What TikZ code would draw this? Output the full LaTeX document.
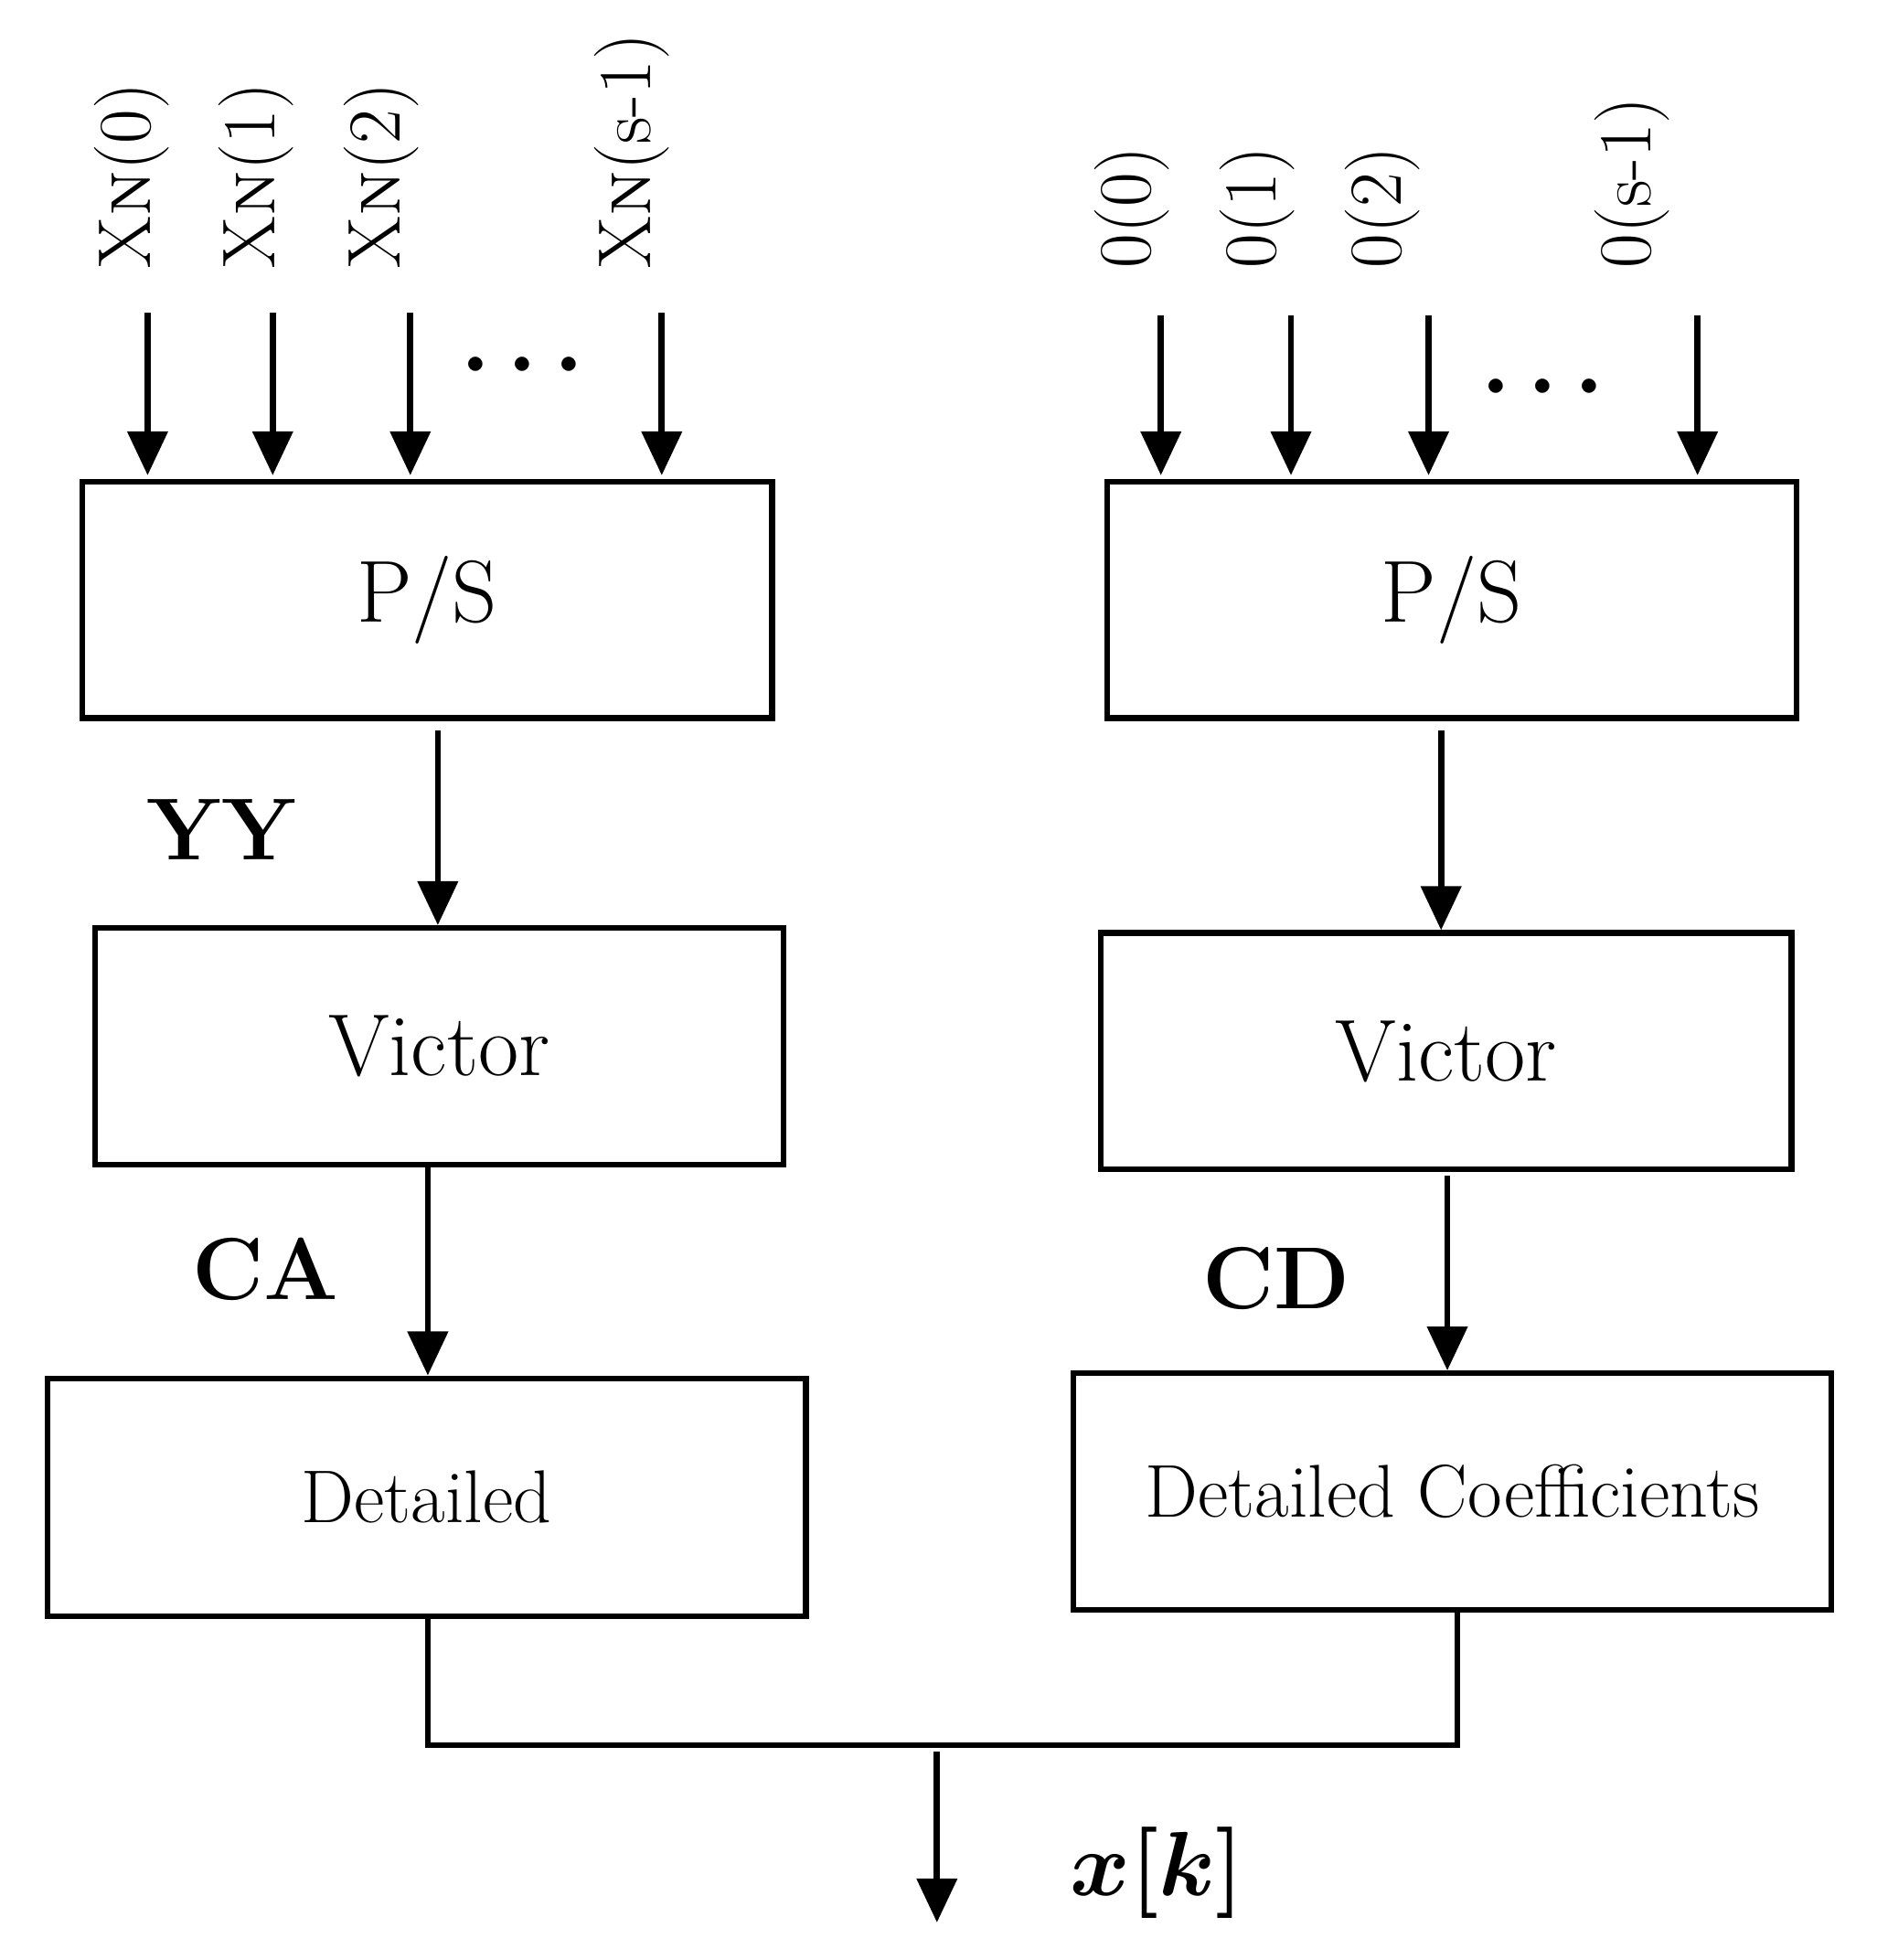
\documentclass[tikz,border=0pt]{standalone}
\usepackage{amsmath,amssymb}
\usepackage{tikz}
\usetikzlibrary{arrows.meta}
\usetikzlibrary{calc}
\tikzset{blk/.style={draw,line width=1.3pt,inner sep=0pt},
  arr/.style={line width=1.4pt,-{Triangle[length=10pt,width=9pt]}},
  inp/.style={rotate=90,anchor=west,inner sep=0pt,font=\fontsize{17}{19}\selectfont}}
\begin{document}
\begin{tikzpicture}[x=0.01cm,y=-0.01cm]
    \useasboundingbox (0,0) rectangle (1500,1567);
    % blocks
    \node[blk,minimum width=5.51cm,minimum height=1.89cm,font=\fontsize{20}{22}\selectfont] (ps1) at (341.5,479.5) {P/S};
    \node[blk,minimum width=5.51cm,minimum height=1.89cm,font=\fontsize{20}{22}\selectfont] (ps2) at (1160.5,479.5) {P/S};
    \node[blk,minimum width=5.50cm,minimum height=1.89cm,font=\fontsize{20}{22}\selectfont] (v1) at (351,836.5) {Victor};
    \node[blk,minimum width=5.52cm,minimum height=1.89cm,font=\fontsize{20}{22}\selectfont] (v2) at (1156,840.5) {Victor};
    \node[blk,minimum width=6.06cm,minimum height=1.90cm,font=\fontsize{17}{19}\selectfont] (d1) at (341,1197) {Detailed};
    \node[blk,minimum width=6.06cm,minimum height=1.89cm,font=\fontsize{17}{19}\selectfont] (d2) at (1161,1192.5) {Detailed Coefficients};
    % inputs
    \foreach \x/\t in {118/0,218/1,328/2,529/s-1}{
      \coordinate (a\t) at (\x,250);
      \draw[arr] (a\t) -- (\x,380);
    }
    \foreach \x/\t in {928/0,1032/1,1142/2,1357/s-1}{
      \coordinate (b\t) at (\x,252);
      \draw[arr] (b\t) -- (\x,380);
    }
    \node[inp] (l0) at (105,215) {X\textsc{n}(0)};
    \node[inp] (l1) at (205,215) {X\textsc{n}(1)};
    \node[inp] (l2) at (305,215) {X\textsc{n}(2)};
    \node[inp] (l3) at (505,215) {X\textsc{n}(s-1)};
    \node[inp] (r0) at (905,215) {0(0)};
    \node[inp] (r1) at (1005,215) {0(1)};
    \node[inp] (r2) at (1105,215) {0(2)};
    \node[inp] (r3) at (1305,215) {0(s-1)};
    \node[font=\fontsize{22}{22}\bfseries] (dl) at (425,292) {$\boldsymbol{\cdots}$};
    \node[font=\fontsize{22}{22}\bfseries] (dr) at (1240,310) {$\boldsymbol{\cdots}$};
    % chain
    \draw[arr] (350,584) -- (v1.north -| 350,0);
    \draw[arr] (342,931) -- (d1.north -| 342,0);
    \draw[arr] (1152,584) -- (v2.north -| 1152,0);
    \draw[arr] (1157,940) -- (d2.north -| 1157,0);
    \node[font=\fontsize{20}{22}\bfseries] (yy) at (177,663) {YY};
    \node[font=\fontsize{20}{22}\bfseries] (ca) at (212,1015) {CA};
    \node[font=\fontsize{20}{22}\bfseries] (cd) at (1020,1022) {CD};
    % join
    \draw[line width=1.3pt] (d1.south -| 342,0) |- (749,1395) -| (d2.south -| 1165,0);
    \coordinate (j) at (749,1400);
    \draw[arr] (j) -- (749,1537);
    \node[font=\fontsize{22}{24}\selectfont] (xk) at (925,1497) {$\boldsymbol{x[k]}$};
\end{tikzpicture}
\end{document}
